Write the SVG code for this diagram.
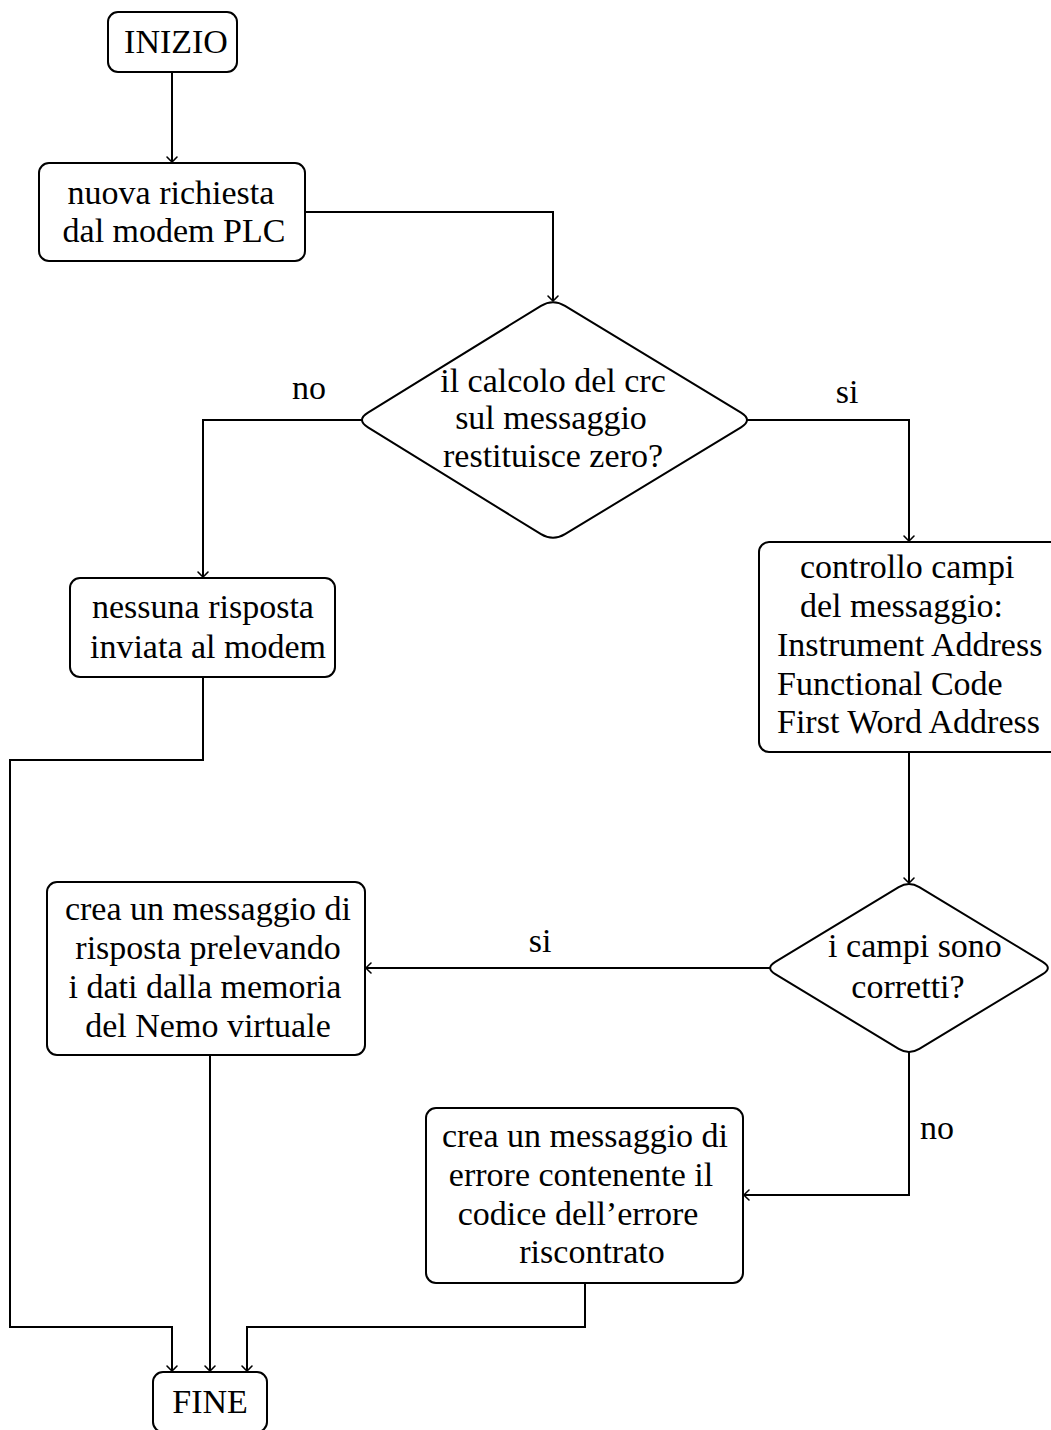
<svg xmlns="http://www.w3.org/2000/svg" width="1051" height="1430" viewBox="0 0 1051 1430">
  <style>
    .box { fill: #ffffff; stroke: #000000; stroke-width: 2; }
    .dec { fill: #ffffff; stroke: #000000; stroke-width: 2; stroke-linejoin: round; }
    .edge { fill: none; stroke: #000000; stroke-width: 2; marker-end: url(#arrow); }
    .line { fill: none; stroke: #000000; stroke-width: 2; }
    text { font-family: "Liberation Serif", "Times New Roman", serif; font-size: 34px; fill: #000000; }
    .c { text-anchor: middle; }
  </style>
  <defs>
    <marker id="arrow" markerUnits="userSpaceOnUse" viewBox="-7 -7 9 14" refX="0" refY="0" markerWidth="9" markerHeight="14" orient="auto" overflow="visible">
      <path d="M-5,-5 Q-1.2,-1.4 0,0 Q-1.2,1.4 -5,5" fill="none" stroke="#000000" stroke-width="1.6" stroke-linecap="round"/>
    </marker>
  </defs>

  <rect width="1051" height="1430" fill="#ffffff"/>

  <!-- connectors -->
  <g id="connectors">
    <path class="edge" d="M172,72 V162"/>
    <path class="edge" d="M305,212 H553 V301"/>
    <path class="edge" d="M362,420 H203 V577"/>
    <path class="edge" d="M747,420 H909 V541"/>
    <path class="edge" d="M203,677 V760 H10 V1327 H172 V1371"/>
    <path class="edge" d="M909,752 V883"/>
    <path class="edge" d="M770,968 H366"/>
    <path class="edge" d="M909,1052 V1195 H744"/>
    <path class="edge" d="M210,1055 V1371"/>
    <path class="edge" d="M585,1283 V1327 H247 V1371"/>
    <text class="c" x="309" y="399">no</text>
    <text class="c" x="847" y="403">si</text>
    <text class="c" x="540" y="952">si</text>
    <text class="c" x="937" y="1139">no</text>
  </g>

  <g id="inizio">
    <rect class="box" x="108" y="12" width="129" height="60" rx="10"/>
    <text class="c" x="176" y="53">INIZIO</text>
  </g>

  <g id="nuova-richiesta">
    <rect class="box" x="39" y="163" width="266" height="98" rx="10"/>
    <text class="c" x="171" y="204">nuova richiesta</text>
    <text class="c" x="174" y="242">dal modem PLC</text>
  </g>

  <g id="controllo-crc">
    <path class="dec" d="M565,305.8 L741,412.7 Q753,420 741,427.3 L565,534.2 Q553,541.5 541,534.2 L368,427.3 Q356,420 368,412.7 L541,305.8 Q553,298.5 565,305.8 Z"/>
    <text class="c" x="553" y="392">il calcolo del crc</text>
    <text class="c" x="551" y="429">sul messaggio</text>
    <text class="c" x="553" y="467">restituisce zero?</text>
  </g>

  <g id="nessuna-risposta">
    <rect class="box" x="70" y="578" width="265" height="99" rx="10"/>
    <text class="c" x="203" y="618">nessuna risposta</text>
    <text class="c" x="208" y="658">inviata al modem</text>
  </g>

  <g id="controllo-campi">
    <rect class="box" x="759" y="542" width="310" height="210" rx="10"/>
    <text x="800" y="578">controllo campi</text>
    <text x="800" y="617">del messaggio:</text>
    <text x="777" y="656">Instrument Address</text>
    <text x="777" y="695">Functional Code</text>
    <text x="777" y="733">First Word Address</text>
  </g>

  <g id="campi-corretti">
    <path class="dec" d="M919.3,887.2 L1042.7,961.8 Q1053,968 1042.7,974.2 L919.3,1048.8 Q909,1055 898.7,1048.8 L775.3,974.2 Q765,968 775.3,961.8 L898.7,887.2 Q909,881 919.3,887.2 Z"/>
    <text class="c" x="915" y="957">i campi sono</text>
    <text class="c" x="908" y="998">corretti?</text>
  </g>

  <g id="crea-risposta">
    <rect class="box" x="47" y="882" width="318" height="173" rx="10"/>
    <text class="c" x="208" y="920">crea un messaggio di</text>
    <text class="c" x="208" y="959">risposta prelevando</text>
    <text class="c" x="205" y="998">i dati dalla memoria</text>
    <text class="c" x="208" y="1037">del Nemo virtuale</text>
  </g>

  <g id="crea-errore">
    <rect class="box" x="426" y="1108" width="317" height="175" rx="10"/>
    <text class="c" x="585" y="1147">crea un messaggio di</text>
    <text class="c" x="581" y="1186">errore contenente il</text>
    <text class="c" x="578" y="1225">codice dell’errore</text>
    <text class="c" x="592" y="1263">riscontrato</text>
  </g>

  <g id="fine">
    <rect class="box" x="153" y="1372" width="114" height="60" rx="10"/>
    <text class="c" x="210" y="1413">FINE</text>
  </g>
</svg>
